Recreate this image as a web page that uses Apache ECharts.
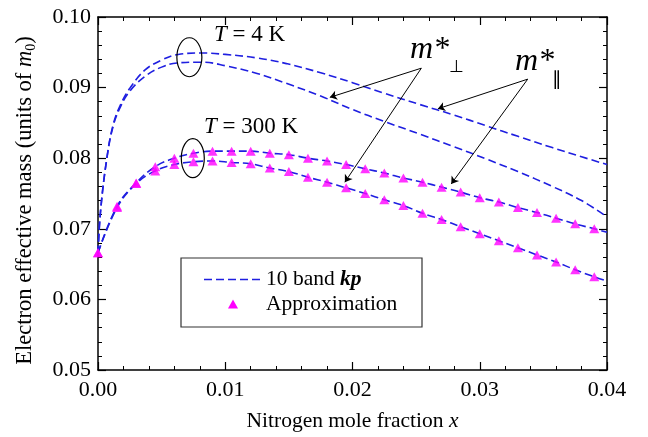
<!DOCTYPE html>
<html>
<head>
<meta charset="utf-8">
<script src="https://cdn.jsdelivr.net/npm/echarts@6/dist/echarts.min.js"></script>
<style>
  html, body { margin: 0; padding: 0; background: #fff; }
  #main { width: 648px; height: 437px; }
</style>
</head>
<body>
<div id="main"></div>
<script>
// 10 band kp, T = 4 K (两条虚线)
var x4K = [0, 0.0002, 0.0007, 0.0012, 0.0018, 0.0025, 0.0037, 0.005, 0.0063, 0.0082, 0.01, 0.0125, 0.0148, 0.0175, 0.02, 0.0225, 0.0253, 0.028, 0.0305, 0.033, 0.0357, 0.038, 0.04];
var par4K = [0.0665, 0.0725, 0.0801, 0.0848, 0.0877, 0.0899, 0.0925, 0.0939, 0.0947, 0.0949, 0.0947, 0.0942, 0.0934, 0.0921, 0.0907, 0.0892, 0.0876, 0.0861, 0.0846, 0.0831, 0.0815, 0.0802, 0.0791];
var perp4K = [0.0665, 0.0725, 0.0800, 0.0846, 0.0874, 0.0895, 0.0916, 0.0929, 0.0935, 0.0936, 0.0931, 0.0920, 0.0906, 0.0888, 0.0869, 0.0852, 0.0834, 0.0816, 0.0799, 0.0781, 0.0760, 0.0740, 0.0717];

// T = 300 K: 虚线 + 三角形近似
var x300 = [0, 0.0015, 0.003, 0.0045, 0.006, 0.0075, 0.009, 0.0105, 0.012, 0.0135, 0.015, 0.0165, 0.018, 0.0195,
            0.021, 0.0225, 0.024, 0.0255, 0.027, 0.0285, 0.03, 0.0315, 0.033, 0.0345, 0.036, 0.0375, 0.039, 0.04];
var par300 = [0.0666, 0.0732, 0.0765, 0.0788, 0.0800, 0.0807, 0.0810, 0.0810, 0.0810, 0.0807, 0.0805, 0.0800, 0.0796, 0.0791,
              0.0785, 0.0779, 0.0772, 0.0766, 0.0759, 0.0752, 0.0744, 0.0738, 0.0730, 0.0723, 0.0715, 0.0707, 0.0700, 0.0695];
var perp300 = [0.0666, 0.0730, 0.0764, 0.0782, 0.0791, 0.0795, 0.0796, 0.0794, 0.0792, 0.0786, 0.0781, 0.0773, 0.0766, 0.0758,
               0.0750, 0.0741, 0.0733, 0.0722, 0.0713, 0.0703, 0.0693, 0.0683, 0.0673, 0.0663, 0.0653, 0.0642, 0.0632, 0.0626];
// 三角形只画到 0.039
var nApprox = 27;

var xTicks = ['0.00', '0.01', '0.02', '0.03', '0.04'];
var yTicks = ['0.05', '0.06', '0.07', '0.08', '0.09', '0.10'];

var serif = 'Liberation Serif';
var blue = '#1f1fe0';
var magenta = '#ff00ff';

function pairs(xs, ys, n) {
    var out = [];
    for (var i = 0; i < (n || xs.length); i++) out.push([xs[i], ys[i]]);
    return out;
}

var chart = echarts.init(document.getElementById('main'));

function lineSeries(data) {
    return {
        name: '10 band kp',
        type: 'line',
        data: data,
        smooth: 0.4,
        symbol: 'none',
        lineStyle: { color: blue, width: 1.6, type: [8, 4] },
        itemStyle: { color: blue },
        z: 3
    };
}
function approxSeries(data) {
    return {
        name: 'Approximation',
        type: 'scatter',
        data: data,
        symbol: 'triangle',
        symbolSize: [10, 9],
        itemStyle: { color: magenta },
        z: 4
    };
}

var arrowLines = lineSeries(pairs(x4K, par4K));
arrowLines.markLine = {
    silent: true,
    symbol: ['none', 'arrow'],
    symbolSize: 7,
    label: { show: false },
    lineStyle: { color: '#000', width: 1, type: 'solid' },
    data: [
        [{ coord: [0.02541, 0.09275] }, { coord: [0.01822, 0.08862] }],
        [{ coord: [0.02541, 0.09275] }, { coord: [0.0194, 0.07660] }],
        [{ coord: [0.03377, 0.0912] }, { coord: [0.02671, 0.0870] }],
        [{ coord: [0.03377, 0.0912] }, { coord: [0.02776, 0.07636] }]
    ]
};

var axisCommon = {
    type: 'value',
    axisLine: { show: true, onZero: false, lineStyle: { color: '#000', width: 1.5 } },
    axisTick: { show: true, inside: true, length: 8, lineStyle: { color: '#000', width: 1.2 } },
    minorTick: { show: true, splitNumber: 5, length: 4, lineStyle: { color: '#000', width: 1 } },
    splitLine: { show: false },
    minorSplitLine: { show: false }
};

var option = {
    animation: false,
    backgroundColor: '#fff',
    grid: { left: 98, right: 41, top: 17, bottom: 64 },
    xAxis: [
        Object.assign({}, axisCommon, {
            min: 0, max: 0.04, interval: 0.01,
            position: 'bottom',
            axisLabel: {
                margin: 9, fontFamily: serif, fontSize: 22, color: '#000',
                formatter: function (v) { return xTicks[Math.round(v / 0.01)]; }
            },
            name: '{n|Nitrogen mole fraction }{i|x}',
            nameLocation: 'middle',
            nameGap: 40,
            nameTextStyle: {
                rich: {
                    n: { fontFamily: serif, fontSize: 21.5, color: '#000' },
                    i: { fontFamily: serif, fontSize: 21.5, fontStyle: 'italic', color: '#000' }
                }
            }
        }),
        Object.assign({}, axisCommon, {
            min: 0, max: 0.04, interval: 0.01,
            position: 'top',
            axisLabel: { show: false }
        })
    ],
    yAxis: [
        Object.assign({}, axisCommon, {
            min: 0.05, max: 0.10, interval: 0.01,
            position: 'left',
            axisLabel: {
                margin: 7, fontFamily: serif, fontSize: 22, color: '#000',
                formatter: function (v) { return yTicks[Math.round((v - 0.05) / 0.01)]; }
            },
            name: '{n|Electron effective mass (units of }{i|m}{s|0}{n|)}',
            nameLocation: 'middle',
            nameGap: 60,
            nameTextStyle: {
                padding: [0, 14, 0, 0],
                rich: {
                    n: { fontFamily: serif, fontSize: 22.5, color: '#000', lineHeight: 26 },
                    i: { fontFamily: serif, fontSize: 22.5, fontStyle: 'italic', color: '#000', lineHeight: 26 },
                    s: { fontFamily: serif, fontSize: 14, color: '#000', lineHeight: 26, verticalAlign: 'bottom' }
                }
            }
        }),
        Object.assign({}, axisCommon, {
            min: 0.05, max: 0.10, interval: 0.01,
            position: 'right',
            axisLabel: { show: false }
        })
    ],
    series: [
        arrowLines,
        lineSeries(pairs(x4K, perp4K)),
        lineSeries(pairs(x300, par300)),
        lineSeries(pairs(x300, perp300)),
        approxSeries(pairs(x300, par300, nApprox)),
        approxSeries(pairs(x300, perp300, nApprox))
    ]
};
chart.setOption(option);

// 标注文字、椭圆和图例
var e4K = chart.convertToPixel({ xAxisIndex: 0, yAxisIndex: 0 }, [0.00718, 0.0943]);
var e300 = chart.convertToPixel({ xAxisIndex: 0, yAxisIndex: 0 }, [0.00745, 0.0800]);
var txt = function (x, y, text, rich, size, z) {
    return {
        type: 'text', x: x, y: y, z: z || 10,
        style: {
            text: text, fill: '#000', fontFamily: serif, fontSize: size || 23,
            align: 'left', verticalAlign: 'middle', rich: rich
        }
    };
};
var richT = {
    i: { fontFamily: serif, fontSize: 23, fontStyle: 'italic', color: '#000' },
    n: { fontFamily: serif, fontSize: 23, color: '#000' }
};
var richM = {
    m: { fontFamily: serif, fontSize: 32, fontStyle: 'italic', color: '#000' }
};
var richL = {
    n: { fontFamily: serif, fontSize: 21.5, color: '#000' },
    b: { fontFamily: serif, fontSize: 21.5, fontWeight: 'bold', fontStyle: 'italic', color: '#000' }
};
chart.setOption({
    graphic: [
        { type: 'ellipse', shape: { cx: e4K[0], cy: e4K[1], rx: 12.5, ry: 19.5 }, style: { fill: 'none', stroke: '#000', lineWidth: 1.2 }, z: 10 },
        { type: 'ellipse', shape: { cx: e300[0], cy: e300[1], rx: 11.5, ry: 19.5 }, style: { fill: 'none', stroke: '#000', lineWidth: 1.2 }, z: 10 },
        txt(214, 35, '{i|T}{n| = 4 K}', richT),
        txt(204, 127, '{i|T}{n| = 300 K}', richT),
        txt(410, 50, '{m|m*}', richM),
        txt(449, 68, '\u22a5', null, 17),
        txt(515, 62, '{m|m*}', richM),
        txt(552, 80, '\u2225', null, 19),
        // 图例
        { type: 'rect', shape: { x: 181, y: 258, width: 241, height: 69 }, style: { fill: '#fff', stroke: '#333', lineWidth: 1.2 }, z: 20 },
        { type: 'line', shape: { x1: 204, y1: 279.5, x2: 260, y2: 279.5 }, style: { stroke: blue, lineWidth: 1.6, lineDash: [8, 4] }, z: 21 },
        { type: 'polygon', shape: { points: [[228, 308.5], [238, 308.5], [233, 299.5]] }, style: { fill: magenta }, z: 21 },
        txt(266, 279, '{n|10 band }{b|kp}', richL, 21.5, 22),
        txt(266, 304, '{n|Approximation}', richL, 21.5, 22)
    ]
});
</script>
</body>
</html>
